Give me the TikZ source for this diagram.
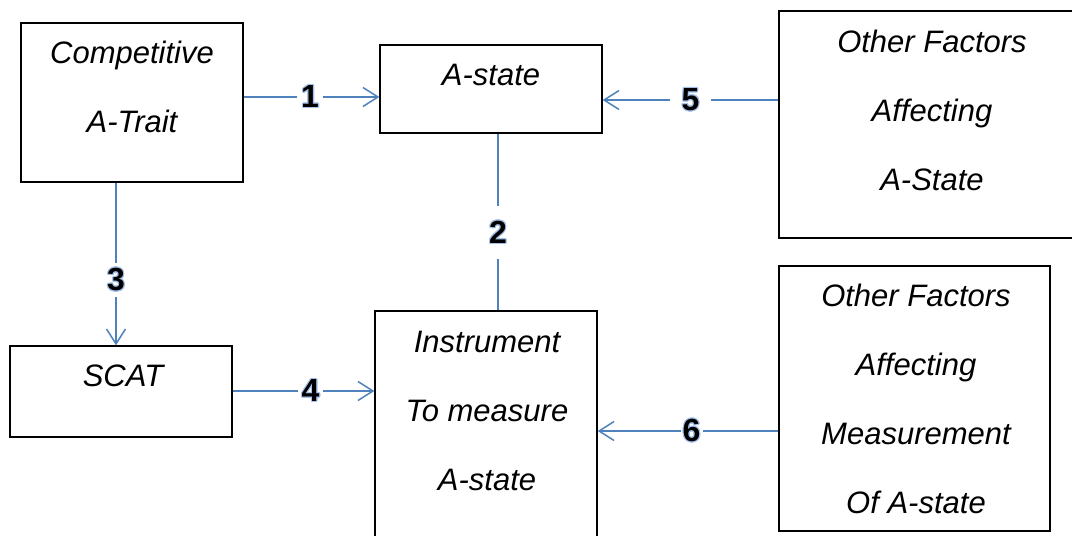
\documentclass[tikz,border=0pt]{standalone}
\usepackage{fontspec}
\setmainfont{Liberation Sans}
\usepackage{contour}
\contourlength{1.1pt}
\contournumber{16}
\usetikzlibrary{arrows.meta}
\definecolor{linkblue}{RGB}{79,129,189}
\definecolor{glowblue}{RGB}{165,192,235}
\tikzset{
  box/.style={draw=black, line width=1.3pt, inner sep=0pt, fill=none},
  txt/.style={anchor=base, inner sep=0pt, font=\itshape\fontsize{31}{37}\selectfont},
  link/.style={draw=linkblue, line width=1.5pt},
  arr/.style={link, -{Straight Barb[length=15pt,width=19pt,line width=1.5pt]}},
  num/.style={fill=white, inner xsep=4pt, inner ysep=3pt, font=\bfseries\fontsize{32}{38}\selectfont}
}
\newcommand{\glownum}[1]{\contour{glowblue}{#1}}
\begin{document}
\begin{tikzpicture}[x=1pt,y=-1pt]
\useasboundingbox (0,0) rectangle (1072,536);
% boxes
\node[box, minimum width=222pt, minimum height=159pt] (b1) at (132,102.5) {};
\node[box, minimum width=222pt, minimum height=88pt]  (b2) at (491,89) {};
\node[box, minimum width=306pt, minimum height=227pt] (b3) at (932,124.5) {};
\node[box, minimum width=222pt, minimum height=91pt]  (b4) at (121,391.5) {};
\node[box, minimum width=222pt, minimum height=259pt] (b5) at (486,440.5) {};
\node[box, minimum width=271pt, minimum height=265pt] (b6) at (914.5,398.5) {};
% texts
\node[txt] (t1a) at (132,63) {Competitive};
\node[txt] (t1b) at (132,132) {A-Trait};
\node[txt] (t2a) at (491,85) {A-state};
\node[txt] (t3a) at (932,52) {Other Factors};
\node[txt] (t3b) at (932,121) {Affecting};
\node[txt] (t3c) at (932,190) {A-State};
\node[txt] (t4a) at (123,386) {SCAT};
\node[txt] (t5a) at (487,352) {Instrument};
\node[txt] (t5b) at (487,421) {To measure};
\node[txt] (t5c) at (487,490) {A-state};
\node[txt] (t6a) at (916,306) {Other Factors};
\node[txt] (t6b) at (916,375) {Affecting};
\node[txt] (t6c) at (916,444) {Measurement};
\node[txt] (t6d) at (916,513) {Of A-state};
% connector rows
\coordinate (r1) at (0,97);
\coordinate (r5) at (0,100);
\coordinate (r4) at (0,391);
\coordinate (r6) at (0,431);
\coordinate (c2) at (498,0);
\coordinate (c3) at (116,0);
% connectors
\draw[arr] (b1.east|-r1) -- node[num, pos=0.49] (n1) {\glownum{1}} (b2.west|-r1);
\draw[arr] (b3.west|-r5) -- node[num, pos=0.5, inner xsep=12pt] (n5) {\glownum{5}} (b2.east|-r5);
\draw[link] (b2.south-|c2) -- node[num, pos=0.56, inner ysep=15pt] (n2) {\glownum{2}} (b5.north-|c2);
\draw[arr] (b1.south-|c3) -- node[num, pos=0.6, inner ysep=5pt] (n3) {\glownum{3}} (b4.north-|c3);
\draw[arr] (b4.east|-r4) -- node[num, pos=0.55] (n4) {\glownum{4}} (b5.west|-r4);
\draw[arr] (b6.west|-r6) -- node[num, pos=0.48, inner xsep=2pt] (n6) {\glownum{6}} (b5.east|-r6);
\end{tikzpicture}
\end{document}
